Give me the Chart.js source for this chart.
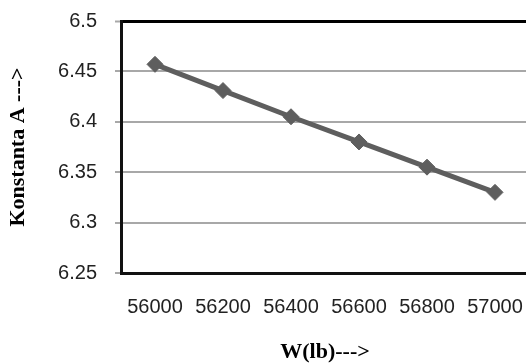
<!DOCTYPE html>
<html>
<head>
<meta charset="utf-8">
<script src="https://cdn.jsdelivr.net/npm/chart.js@4/dist/chart.umd.min.js"></script>
<style>
  html, body { margin: 0; padding: 0; background: #fff; overflow: hidden; }
  canvas { display: block; }
</style>
</head>
<body>
<canvas id="c" width="526" height="363" style="width:526px;height:363px"></canvas>
<script>
// Load W (lb) against constant A
const weights = ['56000', '56200', '56400', '56600', '56800', '57000'];
const konstantaA = [6.457, 6.431, 6.405, 6.380, 6.355, 6.330];
const yTicks = [6.25, 6.3, 6.35, 6.4, 6.45, 6.5];

const lineColor = '#5e5e5e';

// The plot area runs open-ended past the right edge of the canvas
const openRightEdge = {
  id: 'openRightEdge',
  afterLayout(chart) {
    const x = chart.scales.x;
    const area = chart.chartArea;
    if (!x || !area) return;
    const right = chart.width + 3;
    x.right = right;
    x.width = right - x.left;
    x.configure();
    area.right = right;
    area.width = right - area.left;
  }
};

new Chart(document.getElementById('c'), {
  type: 'line',
  data: {
    labels: weights,
    datasets: [{
      data: konstantaA,
      borderColor: lineColor,
      backgroundColor: lineColor,
      borderWidth: 5,
      pointStyle: 'rectRot',
      pointRadius: 8,
      pointBorderWidth: 1,
      pointBorderColor: lineColor,
      pointBackgroundColor: lineColor,
      tension: 0,
      fill: false
    }]
  },
  plugins: [openRightEdge],
  options: {
    responsive: false,
    devicePixelRatio: 1,
    animation: false,
    layout: { padding: { left: 0, top: 21, right: 0, bottom: 0 } },
    plugins: { legend: { display: false }, tooltip: { enabled: false } },
    scales: {
      x: {
        type: 'category',
        offset: true,
        grid: { display: false, drawTicks: false },
        border: { display: true, color: '#111', width: 3 },
        ticks: {
          color: '#222',
          padding: 22,
          maxRotation: 0,
          autoSkip: false,
          font: { family: 'Liberation Sans', size: 20 }
        },
        title: {
          display: true,
          text: 'W(lb)--->',
          color: '#000',
          padding: { top: 0, bottom: 0 },
          font: { family: 'Liberation Serif', size: 22, weight: 'bold', lineHeight: 1 }
        },
        afterFit: s => { s.height = 90; s.paddingLeft = 0; s.paddingRight = 0; }
      },
      y: {
        min: yTicks[0],
        max: yTicks[yTicks.length - 1],
        afterBuildTicks: s => { s.ticks = yTicks.map(v => ({ value: v })); },
        grid: {
          color: c => (c.tick && c.tick.value === 6.5 ? '#000' : '#a8a8a8'),
          lineWidth: c => (c.tick && c.tick.value === 6.5 ? 3 : 2),
          tickColor: '#a8a8a8',
          tickWidth: 2,
          tickLength: 6,
          drawTicks: true
        },
        border: { display: true, color: '#111', width: 3 },
        ticks: {
          color: '#222',
          padding: 18,
          font: { family: 'Liberation Sans', size: 20 },
          callback: v => String(+v.toFixed(2))
        },
        title: {
          display: true,
          text: 'Konstanta A --->',
          color: '#000',
          padding: { top: 5, bottom: 0 },
          font: { family: 'Liberation Serif', size: 22, weight: 'bold' }
        },
        afterFit: s => { s.width = 121; s.paddingTop = 0; s.paddingBottom = 0; }
      }
    }
  }
});
</script>
</body>
</html>
